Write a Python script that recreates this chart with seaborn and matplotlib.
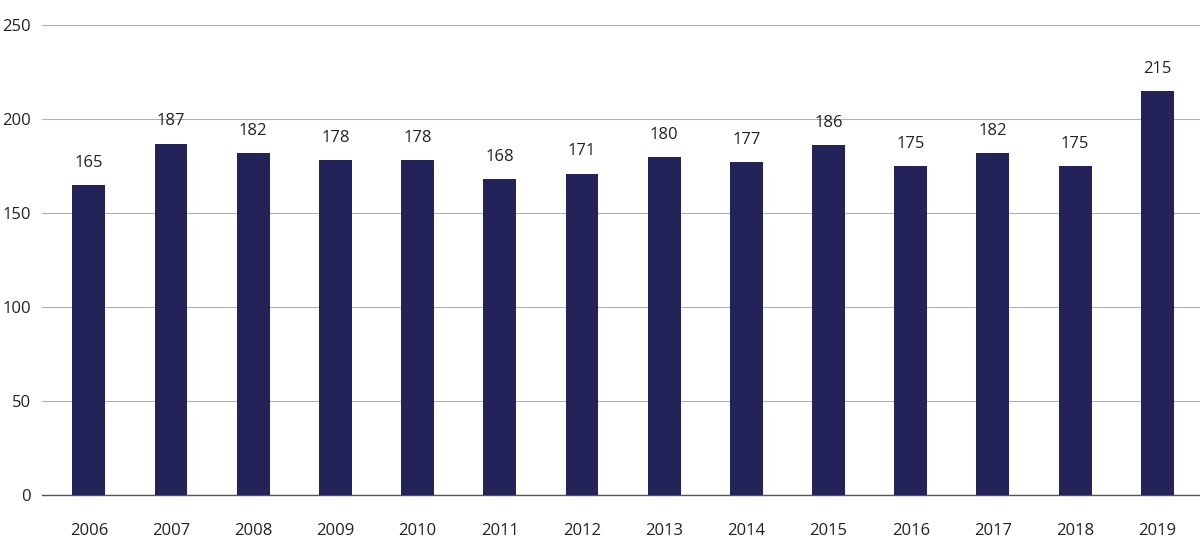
import matplotlib
matplotlib.use("Agg")
import matplotlib.pyplot as plt
import seaborn as sns
import pandas as pd

years = ["2006", "2007", "2008", "2009", "2010", "2011", "2012",
         "2013", "2014", "2015", "2016", "2017", "2018", "2019"]
values = [165, 187, 182, 178, 178, 168, 171, 180, 177, 186, 175, 182, 175, 215]

df = pd.DataFrame({"year": years, "value": values})

sns.set_style("white")
plt.rcParams["font.family"] = ["Open Sans", "DejaVu Sans"]

fig = plt.figure(figsize=(12, 5.58), dpi=100)
ax = fig.add_axes([0.035, 0.113, 0.965, 0.842])

sns.barplot(data=df, x="year", y="value", color="#23235a", width=0.4,
            saturation=1, linewidth=0, ax=ax, zorder=3)

for i, v in enumerate(values):
    ax.text(i, v + 7.5, str(v), ha="center", va="bottom", fontsize=12, color="#222222")

ax.set_ylim(0, 250)
ax.set_xlim(-0.57, 13.52)
ax.set_yticks([0, 50, 100, 150, 200, 250])
ax.yaxis.grid(True, color="#b0b0b0", linewidth=0.8, zorder=0)
ax.tick_params(axis="y", labelsize=12, length=0, colors="#222222", pad=8)
ax.tick_params(axis="x", labelsize=12, length=0, colors="#222222", pad=20)
ax.set_xlabel("")
ax.set_ylabel("")
for s in ["top", "right", "left"]:
    ax.spines[s].set_visible(False)
ax.spines["bottom"].set_color("#555555")
ax.spines["bottom"].set_linewidth(1)

fig.savefig("out.png", dpi=100)
